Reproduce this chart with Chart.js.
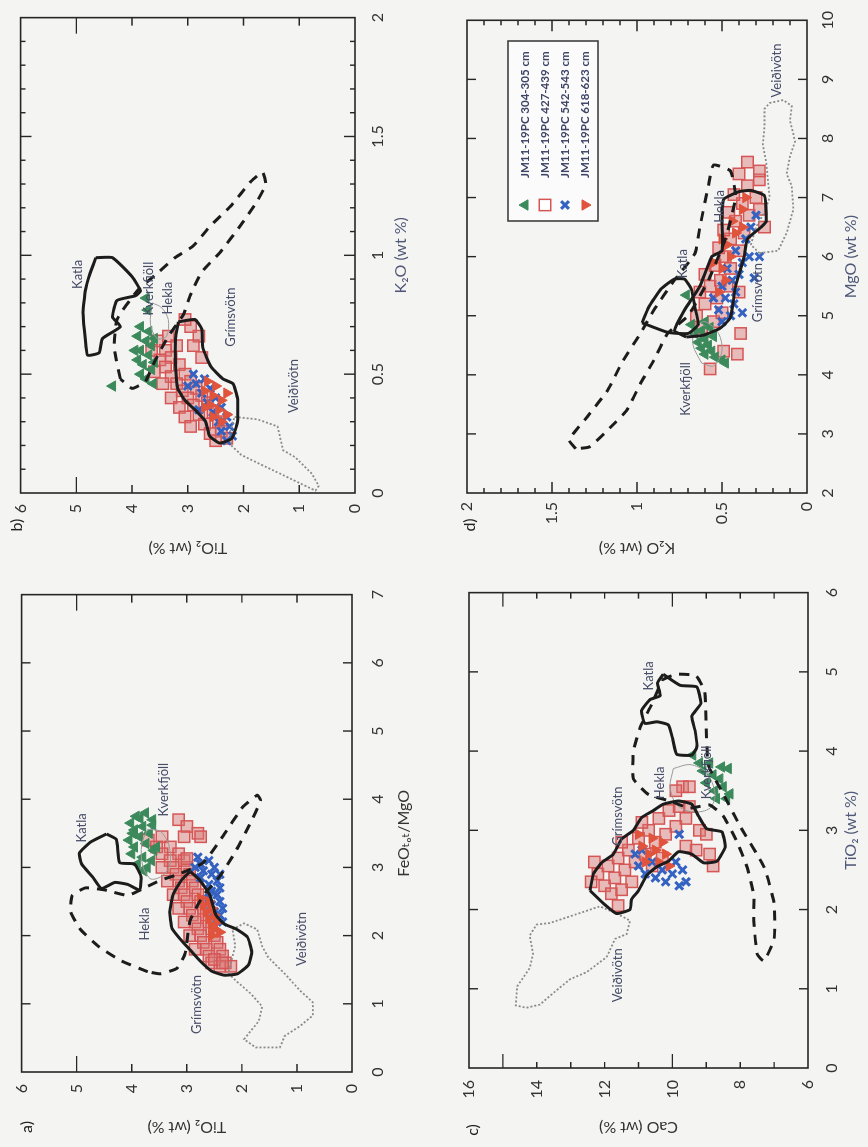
<!DOCTYPE html>
<html>
<head>
<meta charset="utf-8">
<script src="https://cdn.jsdelivr.net/npm/chart.js@4.4.1/dist/chart.umd.min.js"></script>
<style>
  html, body { margin: 0; padding: 0; background: #f4f4f2; }
  body { width: 868px; height: 1147px; overflow: hidden; position: relative; }
  /* the scanned page is turned a quarter turn, so the 4 panels are laid out landscape and rotated */
  #page { position: absolute; left: 0; top: 0; width: 1147px; height: 868px;
          transform-origin: 0 0; transform: translate(0px, 1147px) rotate(-90deg); }
  #page canvas { position: absolute; }
</style>
</head>
<body>
<div id="page">
  <canvas id="chartA" width="573" height="434" style="left:0;top:0"></canvas>
  <canvas id="chartB" width="574" height="434" style="left:573px;top:0"></canvas>
  <canvas id="chartC" width="573" height="434" style="left:0;top:434px"></canvas>
  <canvas id="chartD" width="574" height="434" style="left:573px;top:434px"></canvas>
</div>
<script>
// ---- a) FeOtot/MgO (x) vs TiO2 (y) ----
const aKatla = [[3.49,4.46],[3.41,4.28],[3.07,4.22],[3.05,3.95],[2.86,3.83],[2.67,3.86],[2.75,4.07],[2.78,4.31],[2.69,4.55],[2.86,4.71],[3.05,4.91],[3.21,4.95],[3.37,4.75],[3.49,4.46]];
const aHekla = [[1.47,3.71],[1.63,4.19],[1.84,4.60],[2.09,4.93],[2.35,5.11],[2.59,5.08],[2.70,4.84],[2.67,4.49],[2.59,4.07],[2.70,3.77],[2.81,3.48],[2.91,3.12],[3.07,2.70],[3.45,2.35],[3.88,1.99],[4.06,1.72],[3.98,1.66],[3.66,1.84],[3.24,2.11],[2.86,2.41],[2.59,2.70],[2.22,2.94],[1.74,3.03],[1.52,3.18],[1.44,3.48],[1.47,3.71]];
const aGrims = [[2.94,2.94],[2.81,2.76],[2.59,2.58],[2.30,2.47],[2.17,2.32],[2.10,2.11],[1.98,1.90],[1.76,1.82],[1.57,1.88],[1.44,2.08],[1.42,2.32],[1.48,2.55],[1.63,2.76],[1.79,2.94],[1.95,3.12],[2.11,3.27],[2.35,3.31],[2.62,3.24],[2.82,3.09],[2.94,2.94]];
const aVeid = [[2.09,2.17],[2.18,1.96],[2.09,1.72],[1.84,1.63],[1.68,1.52],[1.44,1.22],[1.20,0.95],[1.02,0.71],[0.83,0.71],[0.67,0.95],[0.53,1.22],[0.36,1.31],[0.36,1.75],[0.48,1.96],[0.75,1.69],[0.96,1.63],[1.15,1.84],[1.34,2.11],[1.45,2.25],[1.85,2.12],[2.09,2.17]];
const aKverk = [[3.56,3.71],[3.53,3.48],[3.34,3.33],[3.07,3.30],[2.89,3.42],[2.83,3.65],[3.02,3.80],[3.34,3.82],[3.56,3.71]];
const aGreen = [[3.80,3.75],[3.75,3.92],[3.70,3.62],[3.65,4.02],[3.60,3.80],[3.55,3.95],[3.50,3.68],[3.45,3.86],[3.40,4.05],[3.35,3.74],[3.30,3.95],[3.25,3.60],[3.20,4.00],[3.15,3.80],[3.10,3.64],[3.05,3.90],[3.00,3.72],[2.95,3.78],[3.30,3.55],[3.50,3.98],[3.62,3.62],[3.72,3.85]];
const aSquare = [[3.45,3.45],[3.40,3.70],[3.30,3.30],[3.30,3.55],[3.20,3.15],[3.20,3.45],[3.10,3.05],[3.10,3.30],[3.00,3.00],[3.00,3.25],[3.00,3.45],[2.90,2.95],[2.90,3.20],[2.80,2.90],[2.80,3.15],[2.80,3.35],[2.70,2.85],[2.70,3.10],[2.60,2.80],[2.60,3.05],[2.60,3.25],[2.50,2.75],[2.50,3.00],[2.40,2.70],[2.40,2.95],[2.40,3.15],[2.30,2.65],[2.30,2.90],[2.20,2.60],[2.20,2.85],[2.20,3.05],[2.10,2.55],[2.10,2.80],[2.00,2.50],[2.00,2.75],[2.00,2.95],[1.90,2.45],[1.90,2.70],[1.80,2.40],[1.80,2.65],[1.80,2.85],[1.70,2.35],[1.70,2.60],[1.60,2.30],[1.60,2.55],
  [3.70,3.15],[3.60,3.00],[3.50,2.80],[3.45,3.05],[3.45,2.75],[3.13,3.00],[1.55,2.40],[1.55,2.20],[1.65,2.50],[1.60,2.35]];
const aCross = [[3.15,2.80],[3.10,2.60],[3.05,2.75],[3.00,2.50],[2.95,2.70],[2.90,2.55],[2.85,2.75],[2.80,2.45],[2.75,2.60],[2.70,2.40],[2.65,2.55],[2.60,2.45],[2.55,2.60],[2.50,2.40],[2.45,2.55],[2.40,2.35],[2.35,2.50],[2.30,2.40],[2.25,2.45],[2.20,2.35],[3.00,2.85],[2.90,2.40]];
const aTri = [[2.55,2.75],[2.50,2.60],[2.45,2.70],[2.40,2.55],[2.35,2.65],[2.30,2.50],[2.25,2.60],[2.20,2.45],[2.15,2.55],[2.10,2.50],[2.05,2.40],[2.00,2.55]];
const aNames = [['Katla',3.58,4.9],['Kverkfjöll',4.14,3.42],['Hekla',2.17,3.77],['Grímsvötn',0.99,2.82],['Veiðivötn',1.95,0.92]];

// ---- b) K2O (x) vs TiO2 (y) ----
const bKatla = [[0.99,4.65],[0.99,4.35],[0.91,4.00],[0.85,3.85],[0.83,3.94],[0.81,4.27],[0.74,4.35],[0.70,4.21],[0.65,4.53],[0.59,4.59],[0.58,4.80],[0.65,4.84],[0.76,4.88],[0.85,4.84],[0.92,4.76],[0.99,4.65]];
const bHekla = [[0.48,4.21],[0.61,4.32],[0.73,4.27],[0.85,3.91],[0.93,3.52],[0.99,3.23],[1.04,2.90],[1.12,2.61],[1.21,2.22],[1.31,1.87],[1.35,1.66],[1.30,1.60],[1.23,1.75],[1.13,2.04],[1.01,2.43],[0.93,2.75],[0.83,2.96],[0.75,3.08],[0.66,3.35],[0.56,3.58],[0.47,3.76],[0.44,4.00],[0.48,4.21]];
const bGrims = [[0.72,3.17],[0.73,2.87],[0.69,2.75],[0.61,2.73],[0.53,2.58],[0.48,2.37],[0.46,2.19],[0.40,2.11],[0.30,2.11],[0.23,2.21],[0.21,2.43],[0.24,2.61],[0.30,2.68],[0.35,2.87],[0.39,3.05],[0.44,3.18],[0.54,3.22],[0.65,3.22],[0.72,3.17]];
const bVeid = [[0.32,2.16],[0.31,1.75],[0.28,1.39],[0.18,1.29],[0.15,1.07],[0.08,0.77],[0.03,0.65],[0.01,0.71],[0.04,0.98],[0.08,1.33],[0.12,1.69],[0.16,2.04],[0.20,2.22],[0.25,2.25],[0.32,2.16]];
const bKverk = [[0.80,3.64],[0.78,3.47],[0.73,3.35],[0.66,3.38],[0.65,3.55],[0.71,3.67],[0.80,3.64]];
const bGreen = [[0.82,3.75],[0.77,3.72],[0.70,3.85],[0.68,3.70],[0.66,3.90],[0.64,3.75],[0.62,3.65],[0.60,3.85],[0.58,3.70],[0.56,3.90],[0.54,3.80],[0.52,3.65],[0.50,3.85],[0.48,3.75],[0.46,3.62],[0.45,4.35],[0.60,3.95],[0.55,3.60],[0.65,3.60]];
const bSquare = [[0.66,3.35],[0.64,3.55],[0.62,3.20],[0.60,3.40],[0.60,3.65],[0.57,3.30],[0.56,3.50],[0.54,3.15],[0.53,3.40],[0.51,3.60],[0.50,3.05],[0.49,3.30],[0.47,2.95],[0.46,3.20],[0.46,3.45],[0.44,2.85],[0.43,3.10],[0.41,2.75],[0.40,3.00],[0.40,3.30],[0.38,2.65],[0.37,2.90],[0.36,3.15],[0.34,2.55],[0.33,2.80],[0.32,3.05],[0.30,2.45],[0.29,2.70],[0.28,2.95],[0.26,2.40],[0.25,2.60],[0.23,2.30],[0.22,2.50],
  [0.70,2.95],[0.66,2.80],[0.62,2.90],[0.57,2.75],[0.73,3.05]];
const bCross = [[0.50,2.90],[0.48,2.70],[0.46,2.85],[0.44,2.60],[0.42,2.75],[0.40,2.50],[0.38,2.65],[0.36,2.40],[0.34,2.55],[0.32,2.30],[0.30,2.45],[0.28,2.25],[0.26,2.40],[0.24,2.20],[0.22,2.30],[0.45,3.00],[0.35,2.80]];
const bTri = [[0.47,2.65],[0.45,2.50],[0.43,2.70],[0.41,2.55],[0.39,2.40],[0.37,2.60],[0.35,2.45],[0.33,2.30],[0.32,2.55],[0.30,2.40],[0.42,2.30],[0.36,2.70]];
const bNames = [['Katla',0.92,4.98],['Kverkfjöll',0.86,3.70],['Hekla',0.82,3.35],['Grímsvötn',0.74,2.22],['Veiðivötn',0.45,1.10]];

// ---- c) TiO2 (x) vs CaO (y) ----
const cKatla = [[4.97,10.27],[4.83,9.77],[4.81,9.28],[4.60,9.16],[4.44,9.43],[4.26,9.33],[4.05,9.28],[3.95,9.43],[3.96,9.87],[4.15,9.99],[4.33,10.12],[4.37,10.46],[4.35,10.81],[4.51,10.91],[4.65,10.66],[4.70,10.36],[4.86,10.44],[4.97,10.27]];
const cHekla = [[4.90,10.3],[4.97,9.9],[4.95,9.3],[4.75,9.05],[4.28,9.0],[3.82,8.94],[3.46,8.5],[3.05,8.0],[2.54,7.3],[2.08,7.0],[1.63,7.0],[1.35,7.3],[1.44,7.5],[1.86,7.6],[2.18,7.6],[2.54,7.8],[2.86,8.1],[3.18,8.5],[3.32,8.9],[3.28,9.5],[3.37,10.07],[3.45,10.7],[3.65,11.15],[4.00,11.15],[4.30,10.95],[4.60,10.6],[4.90,10.3]];
const cGrims = [[2.24,12.43],[2.45,12.33],[2.59,12.09],[2.70,11.74],[2.89,11.50],[3.00,11.15],[3.16,10.91],[3.25,10.56],[3.33,10.27],[3.37,9.82],[3.33,9.43],[3.18,9.23],[3.02,8.99],[2.98,8.54],[2.79,8.44],[2.61,8.69],[2.59,9.08],[2.70,9.43],[2.73,9.82],[2.61,10.12],[2.54,10.46],[2.43,10.76],[2.24,11.0],[2.13,11.2],[2.00,11.25],[1.95,11.65],[2.06,11.99],[2.24,12.43]];
const cVeid = [[1.95,11.65],[1.86,11.25],[1.69,11.35],[1.63,11.69],[1.40,11.94],[1.21,12.53],[1.12,13.02],[0.98,13.42],[0.80,13.91],[0.76,14.31],[0.79,14.62],[1.03,14.58],[1.26,14.21],[1.44,14.11],[1.67,14.21],[1.81,14.01],[1.83,13.62],[1.90,13.12],[1.97,12.63],[2.04,12.14],[1.95,11.65]];
const cKverk = [[3.78,9.97],[3.83,9.48],[3.73,8.99],[3.46,8.74],[3.28,8.89],[3.23,9.38],[3.32,9.87],[3.55,10.07],[3.78,9.97]];
const cGreen = [[3.95,9.4],[3.85,8.9],[3.75,9.1],[3.70,8.8],[3.60,9.0],[3.65,8.6],[3.50,8.75],[3.55,8.5],[3.40,8.4],[3.40,8.7],[3.85,9.2],[3.80,8.55],[3.78,8.35],[3.46,8.3]];
const cSquare = [[2.45,12.2],[2.30,12.0],[2.55,11.9],[2.40,11.7],[2.65,11.6],[2.50,11.4],[2.75,11.3],[2.85,11.5],[2.60,11.1],[2.90,11.0],[2.70,10.8],[3.00,10.7],[3.10,10.9],[2.85,10.5],[3.15,10.4],[2.95,10.2],[3.25,10.1],[3.05,9.9],[3.30,9.8],[3.15,9.6],[3.30,9.5],[2.20,11.8],[2.25,11.5],[2.35,11.2],[2.55,10.6],[2.65,10.3],[2.35,12.4],
  [3.00,9.2],[2.95,9.0],[2.70,8.9],[2.55,8.8],[2.75,9.3],[2.80,9.6],[3.55,9.7],[3.55,9.5],[3.50,9.9],[2.60,12.3],[2.05,11.6]];
const cCross = [[2.55,11.0],[2.45,10.8],[2.60,10.6],[2.40,10.5],[2.50,10.3],[2.35,10.2],[2.45,10.0],[2.30,9.8],[2.50,9.7],[2.70,11.1],[2.75,10.9],[2.35,9.6],[2.60,9.9],[2.95,9.8]];
const cTri = [[2.80,10.9],[2.70,10.7],[2.75,10.5],[2.60,10.4],[2.70,10.2],[2.90,10.6],[2.85,10.3],[2.60,10.8],[2.55,10.1],[2.95,11.0]];
const cNames = [['Katla',4.95,10.71],['Kverkfjöll',3.73,8.99],['Hekla',3.6,10.36],['Grímsvötn',3.18,11.6],['Veiðivötn',1.17,11.6]];

// ---- d) MgO (x) vs K2O (y) ----
const dKatla = [[4.88,0.97],[5.15,0.93],[5.45,0.86],[5.62,0.78],[5.62,0.72],[5.45,0.68],[5.15,0.66],[4.85,0.64],[4.70,0.70],[4.72,0.82],[4.88,0.97]];
const dHekla = [[2.75,1.36],[2.90,1.40],[3.30,1.29],[3.75,1.17],[4.20,1.09],[4.70,0.98],[5.10,0.90],[5.60,0.78],[6.05,0.66],[6.50,0.63],[7.20,0.58],[7.55,0.55],[7.45,0.45],[7.00,0.42],[6.30,0.48],[5.60,0.58],[5.00,0.70],[4.70,0.82],[4.25,0.90],[3.85,0.98],[3.40,1.06],[3.10,1.16],[2.78,1.28],[2.75,1.36]];
const dGrims = [[4.64,0.71],[4.75,0.78],[5.10,0.72],[5.50,0.63],[6.00,0.56],[6.10,0.50],[6.60,0.50],[6.97,0.49],[7.10,0.40],[7.12,0.33],[7.03,0.25],[6.60,0.24],[6.50,0.27],[6.30,0.35],[6.00,0.37],[5.50,0.42],[4.97,0.45],[4.79,0.51],[4.67,0.61],[4.64,0.71]];
const dVeid = [[6.06,0.28],[6.10,0.17],[6.40,0.12],[6.80,0.08],[7.20,0.09],[7.40,0.12],[7.70,0.10],[7.95,0.07],[8.30,0.10],[8.55,0.09],[8.65,0.14],[8.60,0.22],[8.50,0.25],[8.20,0.25],[7.90,0.26],[7.60,0.24],[7.30,0.23],[7.00,0.22],[6.75,0.25],[6.50,0.30],[6.20,0.33],[6.06,0.28]];
const dKverk = [[4.20,0.62],[4.50,0.67],[4.80,0.66],[4.90,0.60],[4.70,0.52],[4.40,0.50],[4.15,0.55],[4.20,0.62]];
const dGreen = [[5.35,0.71],[4.85,0.68],[4.75,0.62],[4.70,0.66],[4.60,0.60],[4.55,0.64],[4.50,0.58],[4.45,0.62],[4.40,0.56],[4.35,0.60],[4.30,0.54],[4.25,0.50],[4.20,0.48],[4.65,0.55],[4.80,0.57],[4.90,0.60]];
const dSquare = [[4.80,0.62],[4.90,0.55],[5.00,0.65],[5.05,0.50],[5.20,0.60],[5.30,0.53],[5.40,0.63],[5.50,0.47],[5.50,0.57],[5.60,0.51],[5.70,0.60],[5.80,0.45],[5.85,0.54],[6.00,0.48],[6.10,0.40],[6.15,0.52],[6.30,0.45],[6.40,0.37],[6.45,0.49],[6.60,0.42],[6.70,0.34],[6.75,0.46],[6.90,0.38],[7.00,0.30],[7.05,0.43],[7.20,0.35],[7.30,0.28],[7.40,0.40],[6.80,0.28],
  [7.60,0.35],[7.45,0.28],[4.35,0.41],[4.70,0.39],[4.40,0.49],[4.10,0.57],[5.40,0.40],[6.50,0.25]];
const dCross = [[4.90,0.50],[5.00,0.45],[5.10,0.52],[5.20,0.43],[5.30,0.48],[5.40,0.42],[5.50,0.50],[5.60,0.44],[5.70,0.40],[5.80,0.47],[5.90,0.38],[6.00,0.34],[6.10,0.42],[6.30,0.36],[6.50,0.33],[6.70,0.30],[5.64,0.31],[6.00,0.28],[5.05,0.38],[5.30,0.55]];
const dTri = [[5.40,0.52],[5.60,0.48],[5.80,0.50],[6.00,0.45],[6.20,0.47],[6.40,0.42],[6.60,0.44],[6.80,0.38],[6.50,0.38],[5.90,0.55],[6.30,0.50],[7.00,0.36]];
const dNames = [['Katla',5.88,0.73],['Hekla',6.85,0.51],['Grímsvötn',5.39,0.29],['Kverkfjöll',3.76,0.71],['Veiðivötn',9.15,0.18]];

const seriesLabels = ['JM11-19PC 304-305 cm', 'JM11-19PC 427-439 cm', 'JM11-19PC 542-543 cm', 'JM11-19PC 618-623 cm'];

Chart.defaults.font.family = "Lato, 'DejaVu Sans', sans-serif";

const toXY = arr => arr.map(p => ({ x: p[0], y: p[1] }));

const lineStyles = {
    solid: { borderColor: '#1c1c1c', borderWidth: 3, borderDash: [], tension: 0.15 },
    dash: { borderColor: '#1c1c1c', borderWidth: 3, borderDash: [10, 8], tension: 0.15 },
    dot: { borderColor: '#8a8a8a', borderWidth: 1.8, borderDash: [2, 2], tension: 0 },
    thin: { borderColor: '#9a9a9a', borderWidth: 1, borderDash: [], tension: 0.3 }
};

const markers = [
    { pointStyle: 'triangle', pointRadius: 6, pointRotation: 0, pointBackgroundColor: '#3c8a5b', pointBorderColor: '#3c8a5b', pointBorderWidth: 1, legendFill: '#3c8a5b', order: 3 },
    { pointStyle: 'rect', pointRadius: 8, pointRotation: 0, pointBackgroundColor: 'rgba(214,118,116,0.45)', pointBorderColor: '#d65656', pointBorderWidth: 1.5, legendFill: '#ffffff', order: 4 },
    { pointStyle: 'crossRot', pointRadius: 5.5, pointRotation: 0, pointBackgroundColor: '#3462c2', pointBorderColor: '#3462c2', pointBorderWidth: 3, legendFill: '#3462c2', order: 2 },
    { pointStyle: 'triangle', pointRadius: 6, pointRotation: 180, pointBackgroundColor: '#e0533c', pointBorderColor: '#e0533c', pointBorderWidth: 1, legendFill: '#e0533c', order: 1 }
];

function outline(name, data, kind) {
    return Object.assign({
        label: name, data: toXY(data), showLine: true, fill: false,
        pointRadius: 0, pointHoverRadius: 0, order: 0
    }, lineStyles[kind]);
}

// inward tick marks on both sides of the frame
function markTicks(scale, spec, fn) {
    const n = Math.round((scale.max - scale.min) / spec.step);
    for (let i = 1; i < n; i++) {
        const v = scale.min + i * spec.step;
        let len = spec.s;
        if (spec.long) {
            const r = v / spec.long;
            if (Math.abs(r - Math.round(r)) < 1e-6) len = spec.l;
        }
        fn(scale.getPixelForValue(v), len);
    }
}

const decorPlugin = {
    id: 'decor',
    afterDatasetsDraw(chart, args, o) {
        const { ctx, chartArea: ca, scales: { x, y } } = chart;
        ctx.save();
        ctx.strokeStyle = '#262626';
        ctx.lineWidth = 1.6;
        ctx.strokeRect(ca.left, ca.top, ca.right - ca.left, ca.bottom - ca.top);

        ctx.lineWidth = 1.4;
        ctx.beginPath();
        markTicks(x, o.xTicks, (px, len) => {
            ctx.moveTo(px, ca.bottom); ctx.lineTo(px, ca.bottom - len);
            ctx.moveTo(px, ca.top); ctx.lineTo(px, ca.top + len);
        });
        markTicks(y, o.yTicks, (py, len) => {
            ctx.moveTo(ca.left, py); ctx.lineTo(ca.left + len, py);
            ctx.moveTo(ca.right, py); ctx.lineTo(ca.right - len, py);
        });
        ctx.stroke();

        // volcano names
        ctx.fillStyle = '#464c68';
        ctx.font = "13px Lato, 'DejaVu Sans', sans-serif";
        ctx.textAlign = 'center';
        ctx.textBaseline = 'middle';
        o.names.forEach(n => ctx.fillText(n[0], x.getPixelForValue(n[1]), y.getPixelForValue(n[2])));

        // panel letter
        ctx.fillStyle = '#222';
        ctx.font = "16px Lato, 'DejaVu Sans', sans-serif";
        ctx.fillText(o.letter[0], ca.left + o.letter[1], ca.top + o.letter[2]);

        if (o.legend) {
            const lg = o.legend;
            const bx = ca.left + lg.dx, by = ca.top + lg.dy;
            ctx.fillStyle = '#fbfbfb';
            ctx.fillRect(bx, by, lg.w, lg.h);
            ctx.strokeStyle = '#333';
            ctx.lineWidth = 1.5;
            ctx.strokeRect(bx, by, lg.w, lg.h);
            ctx.font = "bold 11.5px Lato, 'DejaVu Sans', sans-serif";
            ctx.textAlign = 'left';
            markers.forEach((m, i) => {
                const cy = by + lg.first + i * lg.gap;
                ctx.fillStyle = m.legendFill;
                ctx.strokeStyle = m.pointBorderColor;
                ctx.lineWidth = m.pointBorderWidth;
                Chart.helpers.drawPoint(ctx, {
                    pointStyle: m.pointStyle, radius: m.pointRadius,
                    rotation: m.pointRotation, borderWidth: m.pointBorderWidth
                }, bx + lg.mx, cy);
                ctx.fillStyle = '#3d4466';
                ctx.fillText(seriesLabels[i], bx + lg.tx, cy);
            });
        }
        ctx.restore();
    }
};

function axis(s, dir) {
    return {
        type: 'linear',
        position: dir === 'x' ? 'bottom' : 'left',
        min: s.min,
        max: s.max,
        grid: { display: false, drawTicks: false },
        border: { display: false },
        ticks: {
            stepSize: s.step, autoSkip: false, maxRotation: 0, padding: s.pad, color: '#333', font: { size: 16 },
            callback: v => String(Number(v.toFixed(2)))
        },
        title: {
            display: true, text: s.title, color: s.titleColor || '#333', font: { size: 16 },
            padding: dir === 'x' ? { top: 0, bottom: s.tpad } : { top: s.tpad, bottom: 0 }
        },
        afterFit: sc => {
            if (dir === 'x') sc.height = s.size;
            else sc.width = s.size;
        }
    };
}

function makePanel(canvasId, p) {
    const sets = p.outlines.map(o => outline(o[0], o[1], o[2]));
    p.points.forEach((d, i) => {
        sets.push(Object.assign({ label: seriesLabels[i], data: toXY(d), showLine: false }, markers[i]));
    });
    return new Chart(document.getElementById(canvasId), {
        type: 'scatter',
        data: { datasets: sets },
        options: {
            responsive: false,
            animation: false,
            events: [],
            layout: { padding: p.pad },
            plugins: { legend: { display: false }, tooltip: { enabled: false }, decor: p.decor },
            scales: { x: axis(p.x, 'x'), y: axis(p.y, 'y') }
        },
        plugins: [decorPlugin]
    });
}

makePanel('chartA', {
    pad: { left: 0, top: 15, right: 17, bottom: 0 },
    x: { min: 0, max: 7, step: 1, pad: 16, title: 'FeOₜₒₜ/MgO', tpad: 21, size: 82 },
    y: { min: 0, max: 6, step: 1, pad: 12, title: 'TiO₂ (wt %)', tpad: 10, size: 75 },
    outlines: [['Katla', aKatla, 'solid'], ['Hekla', aHekla, 'dash'], ['Grímsvötn', aGrims, 'solid'], ['Veiðivötn', aVeid, 'dot'], ['Kverkfjöll', aKverk, 'thin']],
    points: [aGreen, aSquare, aCross, aTri],
    decor: { xTicks: { step: 1, s: 9 }, yTicks: { step: 1, long: 5, s: 8, l: 16 }, names: aNames, letter: ['a)', -55, 5] }
});

makePanel('chartB', {
    pad: { left: 0, top: 17, right: 13, bottom: 0 },
    x: { min: 0, max: 2, step: 0.5, pad: 13, title: 'K₂O (wt %)', titleColor: '#4f5878', tpad: 24, size: 79 },
    y: { min: 0, max: 6, step: 1, pad: 11, title: 'TiO₂ (wt %)', tpad: 16, size: 81 },
    outlines: [['Katla', bKatla, 'solid'], ['Hekla', bHekla, 'dash'], ['Grímsvötn', bGrims, 'solid'], ['Veiðivötn', bVeid, 'dot'], ['Kverkfjöll', bKverk, 'thin']],
    points: [bGreen, bSquare, bCross, bTri],
    decor: { xTicks: { step: 0.1, long: 0.5, s: 5, l: 11 }, yTicks: { step: 1, long: 5, s: 8, l: 16 }, names: bNames, letter: ['b)', -32, -4] }
});

makePanel('chartC', {
    pad: { left: 0, top: 35, right: 13, bottom: 0 },
    x: { min: 0, max: 6, step: 1, pad: 14, title: 'TiO₂ (wt %)', titleColor: '#4f5878', tpad: 8, size: 60 },
    y: { min: 6, max: 16, step: 2, pad: 12, title: 'CaO (wt %)', tpad: 10, size: 79 },
    outlines: [['Katla', cKatla, 'solid'], ['Hekla', cHekla, 'dash'], ['Grímsvötn', cGrims, 'solid'], ['Veiðivötn', cVeid, 'dot'], ['Kverkfjöll', cKverk, 'thin']],
    points: [cGreen, cSquare, cCross, cTri],
    decor: { xTicks: { step: 1, s: 9 }, yTicks: { step: 1, long: 5, s: 6, l: 14 }, names: cNames, letter: ['c)', -62, 4] }
});

makePanel('chartD', {
    pad: { left: 0, top: 33, right: 14, bottom: 0 },
    x: { min: 2, max: 10, step: 1, pad: 11, title: 'MgO (wt %)', titleColor: '#4f5878', tpad: 8, size: 61 },
    y: { min: 0, max: 2, step: 0.5, pad: 9, title: 'K₂O (wt %)', tpad: 16, size: 81 },
    outlines: [['Katla', dKatla, 'solid'], ['Hekla', dHekla, 'dash'], ['Grímsvötn', dGrims, 'solid'], ['Veiðivötn', dVeid, 'dot'], ['Kverkfjöll', dKverk, 'thin']],
    points: [dGreen, dSquare, dCross, dTri],
    decor: {
        xTicks: { step: 1, s: 9 }, yTicks: { step: 0.1, long: 0.5, s: 5, l: 11 }, names: dNames, letter: ['d)', -32, 3],
        legend: { dx: 272, dy: 41, w: 180, h: 90, first: 17, gap: 20, mx: 16, tx: 43 }
    }
});
</script>
</body>
</html>
